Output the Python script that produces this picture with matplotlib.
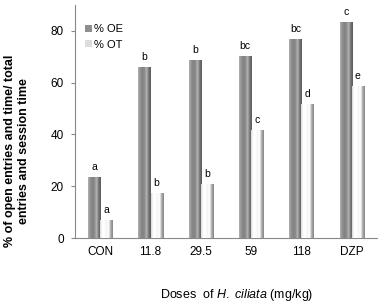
import numpy as np
import matplotlib
matplotlib.use('Agg')
import matplotlib.pyplot as plt
from matplotlib.colors import LinearSegmentedColormap

plt.rcParams['font.family'] = ['Liberation Sans', 'DejaVu Sans']
plt.rcParams['mathtext.fontset'] = 'custom'
plt.rcParams['mathtext.rm'] = 'Liberation Sans'
plt.rcParams['mathtext.it'] = 'Liberation Sans:italic'

doses = ['CON', '11.8', '29.5', '59', '118', 'DZP']
oe = [23.2, 65.8, 68.5, 70.0, 76.6, 83.2]
ot = [6.6, 17.0, 20.5, 41.4, 51.5, 58.4]
oe_letters = ['a', 'b', 'b', 'bc', 'bc', 'c']
ot_letters = ['a', 'b', 'b', 'c', 'd', 'e']

# cylinder-ish shading across the bar width
oe_cmap = LinearSegmentedColormap.from_list(
    'oe', ['#b0b0b0', '#929292', '#828282', '#8a8a8a', '#b4b4b4', '#767676', '#5a5a5a'])
ot_cmap = LinearSegmentedColormap.from_list(
    'ot', ['#d8d8d8', '#ffffff', '#ffffff', '#f4f4f4', '#ffffff', '#acacac', '#868686'])

fig = plt.figure(figsize=(3.83, 3.08), dpi=100)
ax = fig.add_axes([0.196, 0.227, 0.788, 0.757])

x = np.arange(len(doses))
w = 0.24
b1 = ax.bar(x - w / 2, oe, w, color='#8e8e8e', label='% OE', zorder=2)
b2 = ax.bar(x + w / 2, ot, w, color='white', label='% OT', zorder=2)

grad = np.linspace(0, 1, 64).reshape(1, -1)
for bars, cm in [(b1, oe_cmap), (b2, ot_cmap)]:
    for r in bars:
        ax.imshow(grad, cmap=cm, aspect='auto', zorder=3,
                  extent=[r.get_x(), r.get_x() + r.get_width(), 0, r.get_height()])

for i in range(len(doses)):
    ax.text(x[i] - w / 2, oe[i] + 2.2, oe_letters[i], ha='center', va='bottom', fontsize=7.5)
    ax.text(x[i] + w / 2, ot[i] + 2.2, ot_letters[i], ha='center', va='bottom', fontsize=7.5)

ax.set_xlim(-0.5, len(doses) - 0.5)
ax.set_ylim(0, 90)
ax.set_yticks([0, 20, 40, 60, 80])
ax.set_xticks(x)
ax.set_xticklabels(doses)
ax.tick_params(axis='y', labelsize=8.5, length=3, color='#888888', pad=5)
ax.tick_params(axis='x', labelsize=8.5, length=0, pad=6)
for s in ['top', 'right']:
    ax.spines[s].set_visible(False)
for s in ['left', 'bottom']:
    ax.spines[s].set_color('#888888')
    ax.spines[s].set_linewidth(0.8)

leg = ax.legend(loc='upper left', bbox_to_anchor=(0.0, 0.96), frameon=False, fontsize=8,
                handlelength=0.6, handleheight=0.6, handletextpad=0.2, labelspacing=0.5)
leg.legend_handles[0].set_facecolor('#8e8e8e')
leg.legend_handles[1].set_facecolor('#dddddd')

fig.text(0.045, 0.51, '% of open entries and time/ total\nentries and session time',
         rotation=90, ha='center', va='center', fontsize=9, fontweight='bold',
         multialignment='center')
fig.text(0.617, 0.042, r'Doses  of $\mathit{H.\ ciliata}$ (mg/kg)', ha='center', va='center',
         fontsize=9)

fig.savefig('out.png', dpi=100)
